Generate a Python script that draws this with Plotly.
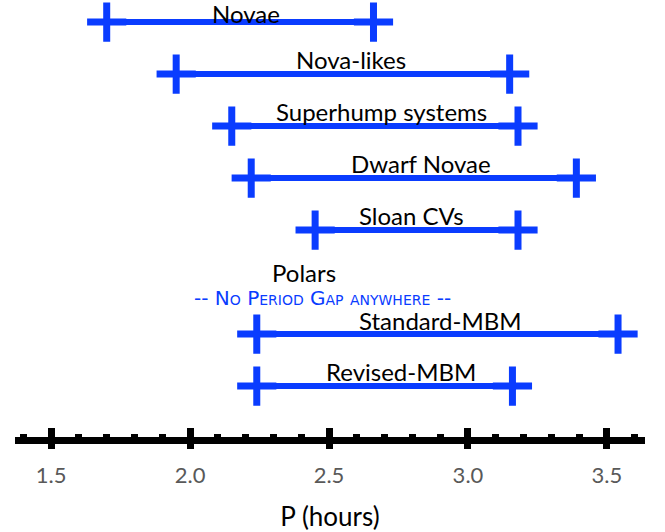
import plotly.graph_objects as go

categories = ["Novae", "Nova-likes", "Superhump systems", "Dwarf Novae",
              "Sloan CVs", "Polars", "Standard-MBM", "Revised-MBM"]
gap_lower = [1.70, 1.95, 2.15, 2.22, 2.45, None, 2.24, 2.24]
gap_upper = [2.66, 3.15, 3.18, 3.39, 3.18, None, 3.54, 3.16]
label_x = [2.20, 2.58, 2.69, 2.83, 2.795, 2.41, 2.90, 2.76]
note_text = "-- No Period Gap anywhere --"
tick_vals = [1.5, 2.0, 2.5, 3.0, 3.5]
tick_text = ["1.5", "2.0", "2.5", "3.0", "3.5"]

BLUE = "#0a3cff"
fig = go.Figure()

for i, (name, lo, hi) in enumerate(zip(categories, gap_lower, gap_upper)):
    if lo is None:
        continue
    fig.add_trace(go.Scatter(
        x=[lo, hi], y=[i, i], mode="lines+markers",
        line=dict(color=BLUE, width=6),
        marker=dict(symbol="cross-thin", size=28, color=BLUE,
                    line=dict(color=BLUE, width=7)),
        showlegend=False, hoverinfo="skip"))

label_shift = {"Novae": 9, "Polars": 10, "Standard-MBM": 14}
for i, name in enumerate(categories):
    fig.add_annotation(x=label_x[i], y=i, text=name, showarrow=False,
                       yshift=label_shift.get(name, 15),
                       font=dict(family="Lato", size=24, color="black"))

polar_idx = categories.index("Polars")
fig.add_annotation(x=2.475, y=polar_idx, text=note_text, showarrow=False,
                   yshift=-16,
                   font=dict(family="DejaVu Sans", size=20, color=BLUE,
                             variant="small-caps"))

xrange = [1.37, 3.637]
fig.update_layout(
    width=665, height=532,
    margin=dict(l=15, r=20, t=0, b=95),
    plot_bgcolor="white", paper_bgcolor="white",
    xaxis=dict(range=xrange, showgrid=False, zeroline=False,
               showline=True, linecolor="black", linewidth=7,
               tickvals=tick_vals, ticktext=tick_text,
               ticks="outside", ticklen=5, tickwidth=7, tickcolor="black",
               ticklabelstandoff=8,
               tickfont=dict(family="Lato", size=22, color="#595959"),
               title=dict(text="P (hours)", standoff=24,
                          font=dict(family="Lato", size=26, color="black"))),
    xaxis2=dict(range=xrange, overlaying="x", anchor="y", side="bottom",
                showgrid=False, zeroline=False, showline=False,
                tickvals=tick_vals, showticklabels=False,
                ticks="inside", ticklen=9, tickwidth=7, tickcolor="black",
                minor=dict(dtick=0.1, tick0=1.5, ticks="inside", ticklen=3,
                           tickwidth=7, tickcolor="black")),
    yaxis=dict(range=[7.98, -0.424], visible=False),
)
fig.add_trace(go.Scatter(x=[None], y=[None], xaxis="x2", showlegend=False))

fig.write_html("out.html")
